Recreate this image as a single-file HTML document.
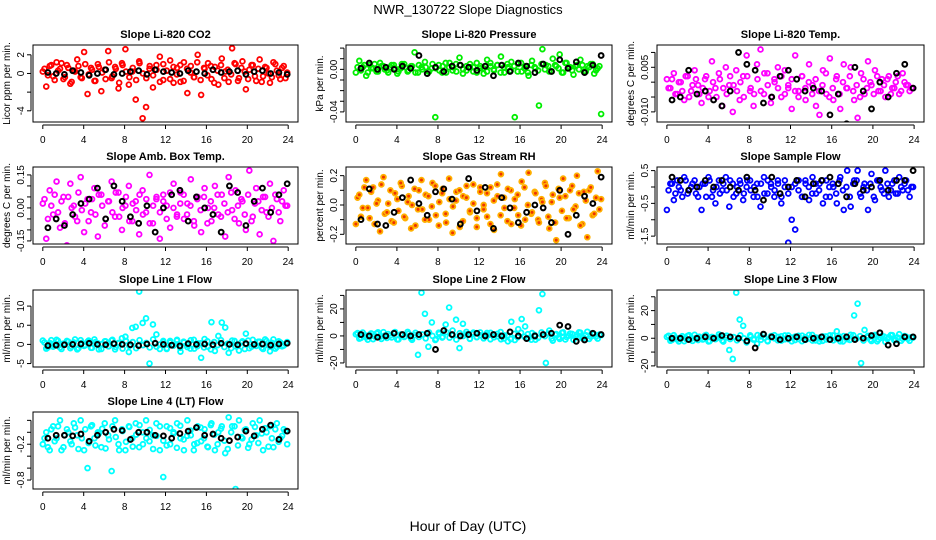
<!DOCTYPE html>
<html><head><meta charset="utf-8"><style>
html,body{margin:0;padding:0;background:#fff;}
svg{display:block;font-family:"Liberation Sans",Arial,sans-serif;}
</style></head><body>
<svg id="chart" width="936" height="540" viewBox="0 0 936 540">
<rect x="0" y="0" width="936" height="540" fill="#fff"/>
<text x="468" y="14" text-anchor="middle" font-size="13">NWR_130722  Slope Diagnostics</text>
<text x="468" y="531" text-anchor="middle" font-size="14">Hour of Day (UTC)</text>
</svg>
<script>
const xTicks = [0,4,8,12,16,20,24];
const co2Vals = [0.2,-1.4,0.8,-0.3,1.2,0.5,-0.6,0.9,-1.1,0.3,1.5,-0.4,2.3,-2.2,0.6,-0.8,1.0,-1.9,0.4,2.4,-0.5,0.7,-1.6,1.1,2.6,-1.2,0.2,-2.8,1.3,-4.8,-3.6,0.5,-1.5,0.9,1.8,-0.7,0.3,1.4,-1.0,0.6,-0.9,1.2,-2.1,0.8,-0.4,2.0,-2.3,0.5,1.1,-0.6,0.7,-1.2,1.6,0.2,-0.9,2.7,1.0,-0.5,1.3,-1.7,0.4,0.9,-0.8,1.5,-0.3,0.6,-1.0,1.2,0.3,-0.6,0.8,0.1];
const co2Core = [0.5,-0.2,0.9,-0.7,0.3,1.1,-0.4,0.6,-0.9,0.2,0.8,-0.5,1.0,-0.1,0.4,-0.8,0.7,0.1,-0.6,1.2,-0.3,0.5,-1.0,0.9,0.2,-0.4,0.6,-0.7,1.1,0.0,-0.5,0.8,-0.2,0.4,-0.9,1.0,0.3,-0.6,0.7,-0.1,0.9,-0.8,0.5,0.1,-0.4,1.2,-0.7,0.6,-0.2,0.8,-1.0,0.3,0.9,-0.5,0.4,-0.1,1.1,-0.8,0.6,0.2,-0.6,0.9,-0.3,0.5,-0.9,0.7,0.0,-0.4,1.0,-0.2,0.6,-0.5];
const co2Avg = [0.1,0.0,-0.1,0.3,0.1,-0.2,0.0,0.4,-0.1,0.0,0.2,0.3,-0.1,0.4,0.2,0.1,0.0,0.3,0.2,0.0,0.4,0.1,0.2,0.3,-0.1,0.2,0.3,0.0,0.1,-0.1];
const presVals = [-0.003,0.008,0.002,-0.006,0.004,0.001,-0.002,0.006,0.003,-0.001,0.002,0.004,-0.004,0.001,0.005,-0.002,0.003,0.016,-0.003,0.002,0.007,-0.002,0.001,-0.045,0.004,-0.003,0.006,0.002,-0.001,0.005,0.011,-0.004,0.003,0.002,-0.002,0.006,0.001,-0.004,0.009,0.003,-0.001,0.004,0.012,-0.003,0.002,0.007,-0.045,0.005,-0.002,0.003,-0.006,0.008,0.001,-0.034,0.019,0.004,-0.002,0.010,0.003,0.014,-0.003,0.006,0.002,-0.005,0.004,0.009,-0.002,0.003,0.005,-0.004,0.001,-0.042];
const presCore = [0.002,-0.001,0.004,-0.003,0.001,0.005,-0.002,0.003,0.000,-0.003,0.004,0.001,-0.002,0.005,0.002,-0.001,0.003,-0.003,0.004,0.000,0.002,-0.002,0.005,0.001,-0.001,0.003,-0.003,0.006,0.002,-0.002,0.004,0.000,-0.001,0.005,0.002,-0.003,0.003,0.001,-0.002,0.006,0.000,0.004,-0.003,0.002,0.005,-0.001,0.003,-0.002,0.006,0.001,-0.003,0.004,0.002,-0.001,0.005,0.000,0.003,-0.002,0.004,0.001,-0.003,0.006,0.002,-0.001,0.003,0.000,0.004,-0.002,0.002,0.005,-0.001,0.003];
const presAvg = [0.001,0.006,0.000,0.002,0.000,0.003,0.001,0.013,-0.004,0.002,-0.002,0.003,0.004,0.002,-0.001,0.003,-0.006,0.004,-0.002,0.006,0.003,-0.003,0.005,-0.002,0.009,0.001,0.007,-0.003,0.004,0.013];
const tempVals = [0.001,-0.002,0.003,-0.004,0.000,-0.006,0.002,-0.003,0.004,-0.001,-0.007,0.001,-0.005,0.007,-0.002,0.003,-0.008,0.005,-0.001,-0.010,0.004,-0.006,0.002,0.009,-0.003,-0.008,0.006,0.011,-0.004,0.003,-0.007,0.001,0.005,-0.005,0.004,-0.002,-0.009,0.009,-0.003,0.002,-0.006,0.006,-0.001,-0.008,-0.011,0.004,-0.004,0.008,-0.006,0.002,-0.009,0.006,-0.002,0.005,-0.006,-0.012,0.003,-0.004,0.007,-0.001,0.004,-0.003,0.001,-0.005,0.002,-0.002,0.000,-0.004,0.003,-0.001,-0.003,-0.002];
const tempCore = [-0.002,0.001,-0.004,0.000,-0.003,0.002,-0.005,-0.001,0.001,-0.004,-0.002,0.002,-0.003,0.000,-0.005,0.001,-0.002,-0.004,0.002,-0.001,-0.003,0.000,-0.005,0.002,-0.002,-0.004,0.001,-0.003,0.003,-0.001,-0.005,0.000,-0.002,0.002,-0.004,-0.001,0.001,-0.003,-0.005,0.002,-0.002,0.000,-0.004,0.001,-0.003,-0.001,0.003,-0.005,-0.002,0.001,-0.004,0.000,-0.002,0.002,-0.003,-0.001,-0.005,0.001,-0.002,0.000,-0.004,0.002,-0.003,-0.001,0.001,-0.004,-0.002,0.002,-0.003,0.000,-0.001,-0.002];
const tempAvg = [-0.006,-0.005,0.004,-0.004,-0.003,-0.006,-0.008,-0.003,0.010,0.006,0.004,-0.007,-0.005,0.002,0.004,0.001,-0.003,-0.002,-0.003,-0.011,-0.004,-0.014,0.005,-0.003,-0.009,0.000,-0.005,0.003,0.006,-0.002];
const ambVals = [0.02,-0.14,0.08,-0.03,0.12,-0.09,0.05,-0.17,0.11,0.01,-0.06,0.14,-0.11,0.04,-0.02,0.09,-0.13,0.06,-0.08,0.03,0.12,-0.04,0.07,-0.10,0.01,0.10,-0.06,0.03,-0.12,0.08,-0.02,0.15,-0.07,0.04,-0.14,0.06,0.01,-0.09,0.11,-0.03,0.07,-0.05,0.02,0.13,-0.08,0.05,-0.11,0.09,0.00,-0.06,0.10,-0.03,0.06,-0.13,0.14,-0.01,0.08,-0.07,0.03,-0.10,0.17,-0.04,0.09,-0.12,0.05,-0.02,0.11,-0.15,0.04,-0.06,0.08,0.01];
const ambCore = [0.04,-0.05,0.01,0.06,-0.02,0.03,-0.07,0.05,0.00,-0.04,0.07,-0.01,0.02,-0.06,0.04,-0.03,0.06,0.01,-0.05,0.03,-0.02,0.07,-0.04,0.00,0.05,-0.06,0.02,-0.01,0.06,-0.03,0.04,-0.07,0.01,0.05,-0.02,0.03,-0.05,0.07,0.00,-0.04,0.02,0.06,-0.03,0.01,-0.06,0.04,-0.01,0.05,-0.07,0.03,0.00,0.06,-0.04,0.02,-0.02,0.07,-0.05,0.01,0.04,-0.03,0.06,-0.06,0.02,0.03,-0.01,0.05,-0.04,0.00,0.06,-0.02,0.03,0.01];
const ambAvg = [-0.09,-0.05,-0.08,-0.03,0.02,0.04,0.09,-0.05,0.10,0.03,-0.04,-0.07,0.01,-0.11,0.00,0.06,0.08,-0.06,0.05,0.00,-0.03,-0.11,0.10,0.07,-0.08,0.03,0.09,-0.02,0.06,0.11];
const rhVals = [-0.13,0.07,-0.02,0.17,-0.09,0.12,0.01,-0.18,0.19,-0.05,0.10,-0.12,0.04,0.15,-0.08,0.02,-0.16,0.11,-0.03,0.17,-0.10,0.06,-0.01,0.13,-0.14,0.08,-0.06,0.18,-0.19,0.03,0.10,-0.11,0.05,-0.04,0.14,-0.15,0.09,0.00,-0.08,0.12,-0.17,0.06,0.21,-0.02,0.11,-0.13,0.04,-0.07,0.16,-0.10,0.22,-0.05,0.08,-0.12,0.02,0.13,-0.16,0.07,-0.24,0.05,0.18,-0.09,0.10,-0.03,0.20,-0.14,0.09,-0.22,0.12,-0.06,0.23,0.04];
const rhCore = [0.05,-0.08,0.12,-0.02,0.09,-0.13,0.03,0.14,-0.06,0.01,-0.11,0.08,-0.04,0.13,-0.09,0.06,0.00,-0.14,0.10,-0.03,0.07,-0.10,0.15,-0.07,0.02,0.11,-0.12,0.04,-0.01,0.09,-0.15,0.06,0.13,-0.05,0.01,-0.09,0.12,-0.03,0.08,-0.13,0.03,0.14,-0.07,0.05,-0.11,0.10,-0.02,0.07,-0.14,0.12,0.00,-0.06,0.09,-0.10,0.04,0.15,-0.08,0.02,-0.12,0.11,-0.04,0.06,-0.09,0.13,-0.01,0.08,-0.13,0.03,0.10,-0.07,0.05,-0.03];
const rhAvg = [-0.10,0.11,-0.13,-0.14,-0.05,0.05,0.17,0.01,-0.07,0.09,0.11,0.04,-0.13,0.18,-0.04,0.12,-0.16,0.05,-0.02,-0.12,-0.05,0.00,-0.02,-0.12,0.10,-0.20,-0.07,0.06,0.01,0.19];
const sampVals = [-0.7,0.1,-0.4,0.2,-0.1,0.3,-0.2,0.0,0.2,-0.3,-0.7,0.1,0.3,-0.3,-0.5,0.2,-0.1,0.3,-0.6,0.1,-0.2,0.2,-0.4,0.0,0.2,-0.3,0.1,-0.6,0.3,-0.2,0.1,-0.3,0.2,-0.5,0.0,-1.7,-1.0,-1.3,0.2,-0.3,0.1,-0.4,0.3,-0.2,0.1,-0.5,0.2,-0.3,0.0,-0.5,0.3,-0.7,0.5,-0.6,0.2,0.5,-0.3,0.1,-0.7,0.4,-0.4,0.2,-0.1,0.5,-0.3,0.1,-0.2,0.3,-0.1,0.2,-0.3,0.0];
const sampCore = [-0.1,0.1,-0.2,0.0,-0.3,0.2,-0.1,0.1,-0.2,0.0,0.1,-0.3,0.2,-0.1,0.0,-0.2,0.1,-0.1,0.2,-0.3,0.0,0.1,-0.2,0.2,-0.1,0.0,-0.3,0.1,-0.2,0.2,0.0,-0.1,0.1,-0.3,0.2,-0.2,0.0,0.1,-0.1,-0.3,0.2,0.0,-0.2,0.1,-0.1,0.2,-0.3,0.0,0.1,-0.2,0.2,-0.1,0.0,-0.3,0.1,0.2,-0.2,0.0,-0.1,0.1,-0.3,0.2,0.0,-0.2,0.1,-0.1,0.2,-0.2,0.0,0.1,-0.1,0.0];
const sampAvg = [0.3,0.2,-0.1,0.0,0.2,0.0,0.2,0.0,-0.1,0.3,-0.1,-0.4,0.3,-0.2,0.0,0.2,-0.3,0.1,0.2,0.3,0.1,-0.3,0.1,-0.1,0.0,0.2,-0.1,0.2,0.2,0.5];
const l1Vals = [1.0,-1.1,0.4,-0.6,1.2,-0.8,0.2,0.9,-1.0,0.5,-1.3,1.1,-0.4,0.7,-0.9,1.3,0.3,-1.2,0.8,-0.5,1.0,-1.3,0.4,1.6,2.0,-2.0,4.3,4.6,13.8,5.6,6.8,-5.0,5.2,2.6,-1.2,0.6,-1.0,0.9,-0.3,1.2,-1.9,0.5,-0.7,1.1,-1.1,0.3,-3.5,1.4,-0.6,5.8,-1.7,2.2,5.7,4.4,-2.2,1.0,-0.5,-1.6,0.8,2.8,-1.0,1.2,-0.4,0.7,-1.2,0.9,-1.8,1.3,-0.7,0.5,-0.3,0.6];
const l1Core = [0.5,-0.8,1.1,-0.3,0.9,-1.2,0.2,0.7,-0.6,1.3,-1.0,0.4,-0.2,1.0,-0.9,0.6,-1.3,0.1,0.8,-0.5,1.2,-0.7,0.3,-1.1,0.9,-0.4,0.6,-1.0,1.1,-0.2,0.4,-0.8,1.3,-0.6,0.0,0.9,-1.2,0.5,-0.3,1.0,-0.9,0.7,-0.1,-1.1,1.2,-0.5,0.3,-0.8,0.8,-1.3,0.6,-0.2,1.1,-0.7,0.2,-1.0,0.9,-0.4,0.5,-1.2,1.0,-0.6,0.1,0.7,-0.9,1.3,-0.3,0.4,-1.1,0.8,-0.5,0.2];
const l1Avg = [-0.3,-0.2,-0.1,0.0,0.1,0.3,0.0,-0.1,0.2,0.0,-0.1,-0.3,0.1,0.3,0.0,-0.2,-0.4,0.2,0.0,0.1,-0.1,0.3,0.0,-0.1,0.2,0.0,0.1,-0.2,0.1,0.3];
const l2Vals = [1.2,-2.0,2.5,-1.1,0.8,-2.4,1.9,-0.6,2.8,-1.5,0.4,2.2,-2.6,1.1,-0.8,3.0,-1.9,0.6,-14.0,32.0,16.4,-8.0,10.0,-3.0,2.4,-1.2,8.4,21.0,4.0,12.0,-9.0,9.0,3.0,-2.1,1.5,-0.9,2.6,-1.8,0.7,2.3,-1.0,1.6,-2.5,0.4,-4.0,10.5,-3.0,5.0,12.5,7.0,-1.6,2.1,-2.8,19.0,31.0,-20.0,4.0,-3.5,1.4,-2.2,2.7,-0.8,1.8,-2.9,0.9,2.4,-1.4,3.1,-0.5,1.3,-2.0,0.6];
const l2Core = [2.1,-1.5,0.8,-2.8,1.9,-0.4,2.7,-2.2,0.3,1.4,-1.1,2.9,-2.6,0.9,-0.2,1.7,-2.9,2.3,-0.8,1.1,-1.8,2.6,0.0,-2.4,1.5,-0.7,2.8,-1.3,0.5,-2.7,2.0,-0.1,1.2,-2.1,2.5,-0.9,0.6,-1.6,2.2,-2.5,1.0,-0.3,2.9,-1.9,0.4,-2.3,1.6,-1.0,2.4,-0.6,1.3,-2.8,0.7,-1.4,2.6,-0.2,1.8,-2.0,0.9,-1.2,2.3,-2.6,0.2,1.5,-0.8,2.7,-1.7,0.6,-2.2,1.9,-0.5,1.0];
const l2Avg = [1,0,-1,0,2,1,0,1,2,-10,4,1,0,1,2,0,1,0,3,0,-2,0,1,2,8,7,-4,-3,2,1];
const l3Vals = [1.0,-1.8,2.2,-0.9,0.6,-2.1,1.7,-0.4,2.5,-1.3,0.3,2.0,-2.3,1.0,-0.7,2.8,-1.6,0.5,-8.5,-15.0,33.0,13.5,9.0,-3.0,2.1,-1.0,-4.0,1.3,2.6,-1.9,0.8,2.2,-1.5,1.4,-0.8,2.0,-2.2,1.2,-0.6,1.9,-1.1,2.4,-1.7,0.5,-2.3,1.3,-0.9,2.1,-1.5,5.0,-2.2,1.6,-0.7,2.5,16.5,25.0,-18.0,6.0,1.8,-2.0,2.4,-0.9,1.7,-2.6,0.8,2.2,-1.2,2.9,-0.4,1.1,-1.8,0.5];
const l3Core = [1.8,-1.2,0.6,-2.3,1.5,-0.3,2.2,-1.9,0.2,1.1,-0.9,2.4,-2.1,0.7,-0.1,1.4,-2.4,1.9,-0.6,0.9,-1.5,2.1,0.0,-2.0,1.2,-0.5,2.3,-1.1,0.4,-2.2,1.6,-0.1,1.0,-1.7,2.0,-0.7,0.5,-1.3,1.8,-2.1,0.8,-0.2,2.4,-1.6,0.3,-1.9,1.3,-0.8,2.0,-0.5,1.1,-2.3,0.6,-1.2,2.2,-0.2,1.5,-1.7,0.7,-1.0,1.9,-2.2,0.2,1.2,-0.6,2.3,-1.4,0.5,-1.8,1.6,-0.4,0.8];
const l3Avg = [0,0,-1,0,1,0,2,1,0,-2,-7,3,1,-1,0,1,-1,0,1,-1,0,1,-1,0,2,4,-5,-4,1,1];
const l4Vals = [-0.2,0.0,-0.3,0.1,-0.1,0.2,-0.25,0.05,-0.15,0.15,-0.05,0.2,-0.3,-0.6,0.1,-0.1,0.0,-0.25,0.15,-0.05,-0.65,0.2,-0.2,0.05,-0.3,0.1,-0.1,0.15,-0.25,0.0,0.2,-0.15,-0.05,0.15,-0.3,-0.75,0.1,-0.2,0.0,0.15,-0.1,-0.3,0.2,-0.05,-0.2,0.1,-0.15,0.05,-0.25,0.15,-0.3,0.0,0.1,-0.35,0.25,0.1,-0.95,0.2,-0.1,0.05,-0.2,0.15,-0.05,0.2,-0.3,0.0,0.1,-0.25,0.15,-0.1,0.05,-0.2];
const l4Core = [-0.1,-0.25,0.05,-0.15,0.1,-0.3,-0.05,0.0,-0.2,0.08,-0.28,-0.1,0.05,-0.18,0.12,-0.22,-0.02,0.06,-0.27,-0.12,0.1,-0.08,-0.3,0.02,-0.16,0.09,-0.24,-0.04,0.12,-0.2,-0.1,0.04,-0.28,-0.06,0.1,-0.14,-0.22,0.07,-0.02,-0.26,0.11,-0.12,-0.06,0.03,-0.3,-0.18,0.08,-0.1,-0.24,0.12,-0.04,-0.2,0.06,-0.14,-0.28,0.0,0.1,-0.22,-0.08,0.04,-0.26,-0.12,0.09,-0.18,-0.02,0.07,-0.24,-0.1,0.05,-0.16,-0.06,0.02];
const l4Avg = [-0.1,-0.05,-0.05,-0.06,-0.03,-0.15,-0.05,0.0,0.05,0.03,-0.12,0.0,0.0,-0.05,-0.06,-0.1,-0.02,0.02,0.08,-0.05,-0.03,-0.1,-0.14,-0.08,0.02,-0.06,0.05,0.12,-0.12,0.02];

const NS = "http://www.w3.org/2000/svg";
const svg = document.getElementById("chart");
const colL = [33,346,657], colR = [298,612,924];
const rowT = [45,167,290,412], H = 77;
const panels = [
 {name:"co2",title:"Slope Li-820 CO2",ylab:"Licor ppm per min.",c:0,r:0,ylim:[-5.2,3.05],ticks:[-4,-2,0,2],labels:["-4","","0","2"],vals:co2Vals,core:co2Core,avg:co2Avg,col:"#ff0000"},
 {name:"pressure",title:"Slope Li-820 Pressure",ylab:"kPa per min.",c:1,r:0,ylim:[-0.0495,0.0229],ticks:[-0.05,-0.04,-0.03,-0.02,-0.01,0,0.01,0.02],labels:["","-0.04","","","","0.00","",""],vals:presVals,core:presCore,avg:presAvg,col:"#00ee00"},
 {name:"temp",title:"Slope Li-820 Temp.",ylab:"degrees C per min.",c:2,r:0,ylim:[-0.0134,0.0125],ticks:[-0.01,-0.005,0,0.005,0.01],labels:["-0.010","","","0.005",""],vals:tempVals,core:tempCore,avg:tempAvg,col:"#ff00ff"},
 {name:"amb-box-temp",title:"Slope Amb. Box Temp.",ylab:"degrees C per min.",c:0,r:1,ylim:[-0.164,0.186],ticks:[-0.15,-0.1,-0.05,0,0.05,0.1,0.15],labels:["-0.15","","","0.00","","","0.15"],vals:ambVals,core:ambCore,avg:ambAvg,col:"#ff00ff"},
 {name:"gas-rh",title:"Slope Gas Stream RH",ylab:"percent per min.",c:1,r:1,ylim:[-0.266,0.259],ticks:[-0.2,-0.1,0,0.1,0.2],labels:["-0.2","","0.0","","0.2"],vals:rhVals,core:rhCore,avg:rhAvg,col:"#ffb000",fill:"#ee3300"},
 {name:"sample-flow",title:"Slope Sample Flow",ylab:"ml/min per min.",c:2,r:1,ylim:[-1.74,0.61],ticks:[-1.5,-1,-0.5,0,0.5],labels:["-1.5","","-0.5","","0.5"],vals:sampVals,core:sampCore,avg:sampAvg,col:"#0000ff"},
 {name:"line1-flow",title:"Slope Line 1 Flow",ylab:"ml/min per min.",c:0,r:2,ylim:[-5.9,14.2],ticks:[-5,0,5,10],labels:["-5","0","5","10"],vals:l1Vals,core:l1Core,avg:l1Avg,col:"#00ffff"},
 {name:"line2-flow",title:"Slope Line 2 Flow",ylab:"ml/min per min.",c:1,r:2,ylim:[-23,34],ticks:[-20,-10,0,10,20,30],labels:["-20","","0","","20",""],vals:l2Vals,core:l2Core,avg:l2Avg,col:"#00ffff"},
 {name:"line3-flow",title:"Slope Line 3 Flow",ylab:"ml/min per min.",c:2,r:2,ylim:[-20.8,34.9],ticks:[-20,-10,0,10,20,30],labels:["-20","","0","","20",""],vals:l3Vals,core:l3Core,avg:l3Avg,col:"#00ffff"},
 {name:"line4-flow",title:"Slope Line 4 (LT) Flow",ylab:"ml/min per min.",c:0,r:3,ylim:[-0.95,0.34],ticks:[-0.8,-0.6,-0.4,-0.2,0,0.2],labels:["-0.8","","","-0.2","",""],vals:l4Vals,core:l4Core,avg:l4Avg,col:"#00ffff"}
];
function mk(tag, attrs, parent){const e=document.createElementNS(NS,tag);for(const k in attrs)e.setAttribute(k,attrs[k]);(parent||svg).appendChild(e);return e;}
panels.forEach(p=>{
  const L=colL[p.c], R=colR[p.c], T=rowT[p.r], B=T+H;
  const pad=(R-L)*0.037;
  const xs=h=>L+pad+(h/24)*(R-L-2*pad);
  const ys=v=>B-(v-p.ylim[0])/(p.ylim[1]-p.ylim[0])*(B-T);
  const g=mk("g",{});
  
  
  const clip=mk("clipPath",{id:"clip-"+p.name},g);
  mk("rect",{x:L,y:T,width:R-L,height:B-T},clip);
  const t=mk("text",{x:(L+R)/2,y:T-7,"text-anchor":"middle","font-size":"11","font-weight":"bold"},g);
  t.textContent=p.title;
  
  
  const yl=mk("text",{x:0,y:0,"text-anchor":"middle","font-size":"10",transform:`translate(${L-23},${(T+B)/2}) rotate(-90)`},g);
  yl.textContent=p.ylab;
  
  
  const pts=mk("g",{"clip-path":`url(#clip-${p.name})`},g);
  
  
  const k=p.core.length;
  p.core.forEach((v,i)=>{
    const c=mk("circle",{cx:xs((i+0.5)*23.9/k),cy:ys(v),r:2.4,fill:p.fill||"none",stroke:p.col,"stroke-width":1.8},pts);
    
    
  });
  const n=p.vals.length;
  p.vals.forEach((v,i)=>{
    const c=mk("circle",{cx:xs(i*23.9/(n-1)),cy:ys(v),r:2.4,fill:p.fill||"none",stroke:p.col,"stroke-width":1.8},pts);
    
    
  });
  const m=p.avg.length;
  p.avg.forEach((v,i)=>{
    const c=mk("circle",{cx:xs(0.5+i*23.4/(m-1)),cy:ys(v),r:2.4,fill:"none",stroke:"#000","stroke-width":2},pts);
    
    
  });
  const box=mk("rect",{x:L,y:T,width:R-L,height:B-T,fill:"none",stroke:"#000","stroke-width":1},g);
  
  
  const xa=mk("g",{},g);
  
  
  mk("line",{x1:xs(0),x2:xs(24),y1:B+3,y2:B+3,stroke:"#000"},xa);
  xTicks.forEach(h=>{
    mk("line",{x1:xs(h),x2:xs(h),y1:B+3,y2:B+7,stroke:"#000"},xa);
    const tx=mk("text",{x:xs(h),y:B+21,"text-anchor":"middle","font-size":"10"},xa);
    tx.textContent=h;
  });
  const ya=mk("g",{},g);
  
  
  const tv=p.ticks.filter(v=>v>=p.ylim[0]&&v<=p.ylim[1]);
  mk("line",{x1:L-2,x2:L-2,y1:ys(tv[0]),y2:ys(tv[tv.length-1]),stroke:"#000"},ya);
  p.ticks.forEach((v,i)=>{
    if(v<p.ylim[0]||v>p.ylim[1])return;
    mk("line",{x1:L-2,x2:L-6,y1:ys(v),y2:ys(v),stroke:"#000"},ya);
    if(p.labels[i]){
      const tx=mk("text",{x:0,y:0,"text-anchor":"middle","font-size":"10",transform:`translate(${L-9},${ys(v)}) rotate(-90)`},ya);
      tx.textContent=p.labels[i];
    }
  });
});
</script>
</body></html>
